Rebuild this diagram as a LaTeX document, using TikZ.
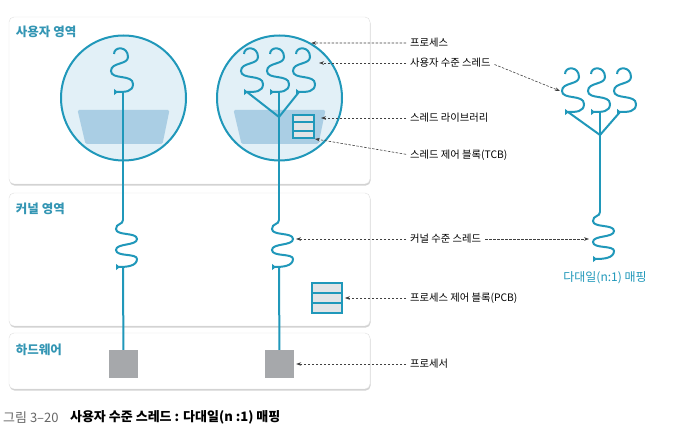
\documentclass[tikz,border=0pt]{standalone}
\usepackage{fontspec}
\setmainfont{Noto Sans CJK KR}
\usetikzlibrary{arrows.meta, positioning, calc, shadows}
\definecolor{threadblue}{RGB}{32,152,186}
\definecolor{areablue}{RGB}{52,150,180}
\definecolor{procfill}{RGB}{226,240,247}
\definecolor{libfill}{RGB}{170,206,228}
\definecolor{cpugray}{RGB}{166,168,171}
\definecolor{tblgray}{RGB}{226,228,230}

\begin{document}
\begin{tikzpicture}[
  x=1pt, y=-1pt,
  area/.style={draw=black!12, fill=white, rounded corners=5pt, minimum width=361pt,
    drop shadow={shadow xshift=0.6pt, shadow yshift=-1.6pt, opacity=0.35}},
  areatxt/.style={inner sep=0pt, text=areablue, font=\fontsize{12.5}{14}\selectfont\bfseries},
  proc/.style={circle, draw=threadblue, fill=procfill, line width=2pt, minimum size=125pt},
  lib/.style={fill=libfill, rounded corners=1.5pt},
  tbl/.style={draw=threadblue, fill=tblgray, line width=1.8pt},
  cpu/.style={fill=cpugray, minimum width=29pt, minimum height=28pt},
  thread/.style={draw=threadblue, line width=2pt},
  callout/.style={draw=black!75, line width=0.6pt, dash pattern=on 2.5pt off 1.5pt,
    -{Stealth[length=5pt, width=3.6pt]}, shorten <=4pt},
  lbl/.style={anchor=west, inner sep=0pt, font=\fontsize{10.3}{12}\selectfont},
  captxt/.style={inner sep=0pt, font=\fontsize{13}{15}\selectfont},
  uthread/.pic={
    \draw[thread, -{Triangle[reversed, length=4pt, width=6pt]}]
      (-9,-38) .. controls (-9,-46) and (5,-46) .. (5,-35)
      .. controls (5,-27) and (-12,-30) .. (-12,-21)
      .. controls (-12,-12) and (10,-18) .. (10,-8)
      .. controls (10,0) and (2,0) .. (-9,0);
    \coordinate (-base) at (0,0);
    \coordinate (-end) at (-6,0);
    \coordinate (-rside) at (14,-29);
    \coordinate (-lside) at (-14,-21);
  },
  kthread/.pic={
    \draw[thread, -{Triangle[reversed, length=4pt, width=6pt]}]
      (0,0) .. controls (0,5) and (-7,3) .. (-7,9)
      .. controls (-7,16) and (14,12) .. (14,19)
      .. controls (14,26) and (-7,23) .. (-7,30)
      .. controls (-7,37) and (14,33) .. (14,39)
      .. controls (14,46) and (4,47) .. (-7,47);
    \coordinate (-top) at (0,0);
    \coordinate (-bot) at (0,47);
    \coordinate (-rside) at (17,19);
    \coordinate (-lside) at (-11,27);
  }
]
\useasboundingbox[fill=white] (0,0) rectangle (681,435);

\node[area, minimum height=167pt] (user) at (189.5,100.5) {};
\node[area, minimum height=133pt] (kernel) at (189.5,259.5) {};
\node[area, minimum height=56pt] (hw) at (189.5,361) {};
\node[areatxt, below right=9pt and 7pt of user.north west] (usertxt) {사용자 영역};
\node[areatxt, below right=10pt and 7pt of kernel.north west] (kerneltxt) {커널 영역};
\node[areatxt, below right=11pt and 7pt of hw.north west] (hwtxt) {하드웨어};

\node[proc] (proc1) at (123.5,98) {};
\node[proc] (proc2) at (279.5,98) {};
\fill[lib, shift={(proc1.center)}] (-46,12) -- (46,12) -- (39,46) -- (-38,46) -- cycle;
\fill[lib, shift={(proc2.center)}] (-46,12) -- (46,12) -- (39,46) -- (-38,46) -- cycle;
\coordinate (lib2) at (321,118);

\node[tbl, minimum width=21pt, minimum height=23pt] (tcb) at (303.5,126.5) {};
\draw[thread] ($(tcb.north west)!1/3!(tcb.south west)$) -- ($(tcb.north east)!1/3!(tcb.south east)$);
\draw[thread] ($(tcb.north west)!2/3!(tcb.south west)$) -- ($(tcb.north east)!2/3!(tcb.south east)$);
\node[tbl, minimum width=30pt, minimum height=30pt] (pcb) at (327,298) {};
\draw[thread] ($(pcb.north west)!1/3!(pcb.south west)$) -- ($(pcb.north east)!1/3!(pcb.south east)$);
\draw[thread] ($(pcb.north west)!2/3!(pcb.south west)$) -- ($(pcb.north east)!2/3!(pcb.south east)$);

\pic (a1) at (123,92) {uthread};
\pic (b1) at (253,92) {uthread};
\pic (b2) at (279,92) {uthread};
\pic (b3) at (305,92) {uthread};
\pic (n1) at (574,112) {uthread};
\pic (n2) at (600,112) {uthread};
\pic (n3) at (626,112) {uthread};
\pic (k1) at (123,220) {kthread};
\pic (k2) at (279,220) {kthread};
\pic (k3) at (600,212) {kthread};
\coordinate (join2) at (279,117);
\coordinate (join3) at (600,135);

\node[cpu] (cpu1) at (123.5,364) {};
\node[cpu] (cpu2) at (279.5,364) {};

\draw[thread] (a1-base) -- (k1-top);
\draw[thread] (k1-bot) -- (cpu1);
\draw[thread] (b1-end) -- (join2) -- (b3-end);
\draw[thread] (b2-base) -- (k2-top);
\draw[thread] (k2-bot) -- (cpu2);
\draw[thread] (n1-end) -- (join3) -- (n3-end);
\draw[thread] (n2-base) -- (k3-top);

\node[font=\fontsize{12}{14}\selectfont, text=threadblue] (nmap) at (605,278) {다대일(n:1) 매핑};

\node[lbl] (lproc) at (410,43) {프로세스};
\node[lbl] (luser) at (410,63) {사용자 수준 스레드};
\node[lbl] (llib) at (410,118) {스레드 라이브러리};
\node[lbl] (ltcb) at (410,155) {스레드 제어 블록(TCB)};
\node[lbl] (lkern) at (410,239) {커널 수준 스레드};
\node[lbl] (lpcb) at (410,298) {프로세스 제어 블록(PCB)};
\node[lbl] (lcpu) at (410,364) {프로세서};

\draw[callout] (lproc.west) -- (proc2.60);
\draw[callout] (luser.west) -- (b3-rside);
\draw[callout] (luser.east) -- (n1-lside);
\draw[callout] (llib.west) -- (lib2);
\draw[callout] (ltcb.west) -- (tcb.south east);
\draw[callout] (lkern.west) -- (k2-rside);
\draw[callout] (lkern.east) -- (k3-lside);
\draw[callout, shorten >=2pt] (lpcb.west) -- (pcb.east);
\draw[callout, shorten >=2pt] (lcpu.west) -- (cpu2.east);

\node[captxt, anchor=west, text=black!60] (capnum) at (3,417.5) {그림 3–20};
\node[captxt, right=11pt of capnum, font=\fontsize{13}{15}\selectfont\bfseries] (captitle) {사용자 수준 스레드 : 다대일(n :1) 매핑};
\end{tikzpicture}
\end{document}
